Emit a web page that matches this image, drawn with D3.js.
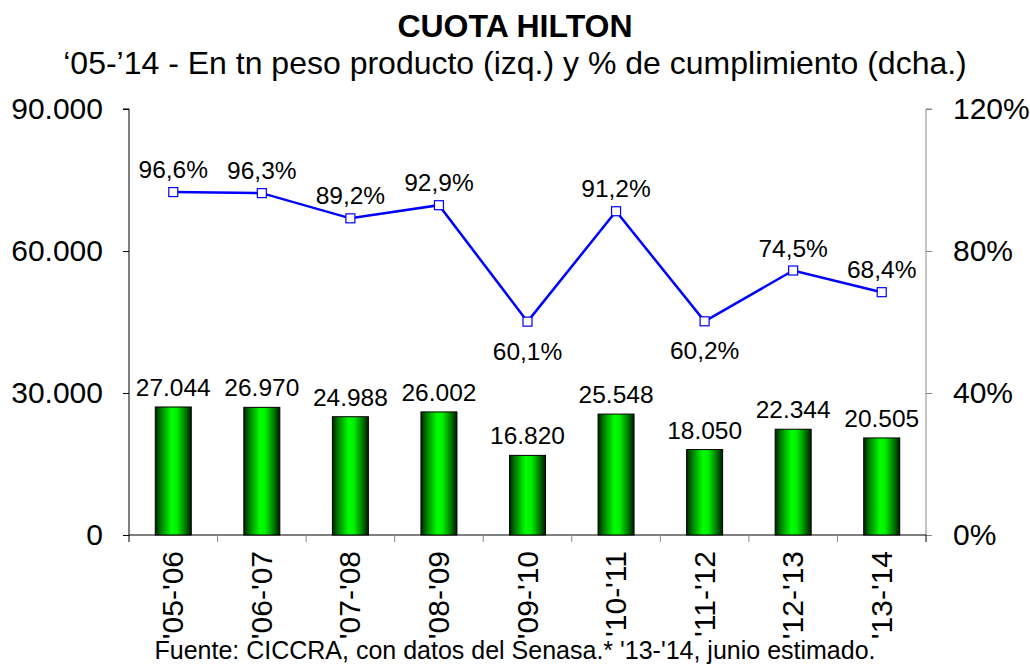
<!DOCTYPE html>
<html>
<head>
<meta charset="utf-8">
<style>
  body { margin: 0; background: #fff; }
  svg { font-family: "Liberation Sans", Arial, sans-serif; }
  .title { font-size: 32px; font-weight: bold; text-anchor: middle; }
  .sub { font-size: 32px; text-anchor: middle; }
  .tick text { font-size: 30px; fill: #000; }
  .lbl { font-size: 24.5px; text-anchor: middle; fill: #000; }
  .src { font-size: 25px; text-anchor: middle; }
</style>
<script src="https://d3js.org/d3.v7.min.js"></script>
</head>
<body>
<svg width="1030" height="666"></svg>
<script>
var seasons = ["'05-'06", "'06-'07", "'07-'08", "'08-'09", "'09-'10", "'10-'11", "'11-'12", "'12-'13", "'13-'14"];
var tonnes = [27044, 26970, 24988, 26002, 16820, 25548, 18050, 22344, 20505];
var pctFilled = [96.6, 96.3, 89.2, 92.9, 60.1, 91.2, 60.2, 74.5, 68.4];
var leftTicks = [0, 30000, 60000, 90000];
var rightTicks = [0, 40, 80, 120];

var fmtT = function(v) { return d3.format(",")(v).replace(/,/g, "."); };
var fmtP = function(v) { return v.toFixed(1).replace(".", ",") + "%"; };

var svg = d3.select("svg");
var pLeft = 129, pRight = 926, pTop = 109, pBottom = 535;

var x = d3.scaleBand().domain(seasons).range([pLeft, pRight]).paddingInner(0).paddingOuter(0);
var y = d3.scaleLinear().domain([0, 90000]).range([pBottom, pTop]);
var y2 = d3.scaleLinear().domain([0, 120]).range([pBottom, pTop]);

// gradient for the bars
var grad = svg.append("defs").append("linearGradient").attr("id", "barGrad")
  .attr("x1", "0%").attr("x2", "100%").attr("y1", "0%").attr("y2", "0%");
grad.append("stop").attr("offset", "0%").attr("stop-color", "#002200");
grad.append("stop").attr("offset", "15%").attr("stop-color", "#007a00");
grad.append("stop").attr("offset", "45%").attr("stop-color", "#00ff00");
grad.append("stop").attr("offset", "60%").attr("stop-color", "#00f000");
grad.append("stop").attr("offset", "85%").attr("stop-color", "#007000");
grad.append("stop").attr("offset", "100%").attr("stop-color", "#001a00");

svg.append("text").attr("class", "title").attr("x", 515).attr("y", 37).text("CUOTA HILTON");
svg.append("text").attr("class", "sub").attr("x", 515).attr("y", 74)
  .text("\u201805-\u201914 - En tn peso producto (izq.) y % de cumplimiento (dcha.)");

// left axis
var ga = svg.append("g").attr("transform", "translate(" + pLeft + ",0)")
  .call(d3.axisLeft(y).tickValues(leftTicks).tickFormat(fmtT).tickSize(6).tickPadding(20));
ga.select(".domain").attr("stroke", "#000").attr("d", "M-6," + pTop + "H0V" + pBottom);

// right axis
var gr = svg.append("g").attr("transform", "translate(" + pRight + ",0)")
  .call(d3.axisRight(y2).tickValues(rightTicks).tickFormat(function(d) { return d + "%"; }).tickSize(6).tickPadding(21));
gr.selectAll("line").attr("stroke", "#888");
gr.select(".domain").attr("stroke", "#888").attr("d", "M6," + pTop + "H0V" + pBottom);

// bottom axis with ticks at category boundaries
var gx = svg.append("g").attr("transform", "translate(0," + pBottom + ")");
gx.append("line").attr("x1", pLeft).attr("x2", pRight).attr("stroke", "#000");
gx.selectAll(".bt").data(seasons.concat(["end"])).enter().append("line")
  .attr("x1", function(d, i) { return pLeft + i * x.bandwidth(); })
  .attr("x2", function(d, i) { return pLeft + i * x.bandwidth(); })
  .attr("y1", 0).attr("y2", 7).attr("stroke", function(d, i) { return (i === 0 || i === 9) ? "#000" : "#888"; });
gx.selectAll(".xl").data(seasons).enter().append("text")
  .attr("transform", function(d) { return "translate(" + (x(d) + x.bandwidth() / 2 + 10) + ",16) rotate(-90)"; })
  .attr("text-anchor", "end").attr("font-size", "30px").text(function(d) { return d; });

// bars
var bw = 36;
svg.selectAll(".bar").data(tonnes).enter().append("rect")
  .attr("x", function(d, i) { return x(seasons[i]) + x.bandwidth() / 2 - bw / 2; })
  .attr("y", function(d) { return y(d); })
  .attr("width", bw).attr("height", function(d) { return pBottom - y(d); })
  .attr("fill", "url(#barGrad)").attr("stroke", "#000").attr("stroke-width", 1);
svg.selectAll(".bl").data(tonnes).enter().append("text").attr("class", "lbl")
  .attr("x", function(d, i) { return x(seasons[i]) + x.bandwidth() / 2; })
  .attr("y", function(d) { return y(d) - 11; }).text(fmtT);

// line
var cx = function(d, i) { return x(seasons[i]) + x.bandwidth() / 2; };
var line = d3.line().x(cx).y(function(d) { return y2(d); });
svg.append("path").datum(pctFilled).attr("d", line).attr("fill", "none")
  .attr("stroke", "#0000ff").attr("stroke-width", 2.5);
svg.selectAll(".pt").data(pctFilled).enter().append("rect")
  .attr("x", function(d, i) { return cx(d, i) - 4.5; })
  .attr("y", function(d) { return y2(d) - 4.5; })
  .attr("width", 9).attr("height", 9).attr("fill", "#fff").attr("stroke", "#0000ff").attr("stroke-width", 1.2);
svg.selectAll(".pl").data(pctFilled).enter().append("text").attr("class", "lbl")
  .attr("x", cx)
  .attr("y", function(d) { return d < 65 ? y2(d) + 38 : y2(d) - 14; })
  .text(fmtP);

svg.append("text").attr("class", "src").attr("x", 515).attr("y", 659)
  .text("Fuente: CICCRA, con datos del Senasa.* '13-'14, junio estimado.");
</script>
</body>
</html>
